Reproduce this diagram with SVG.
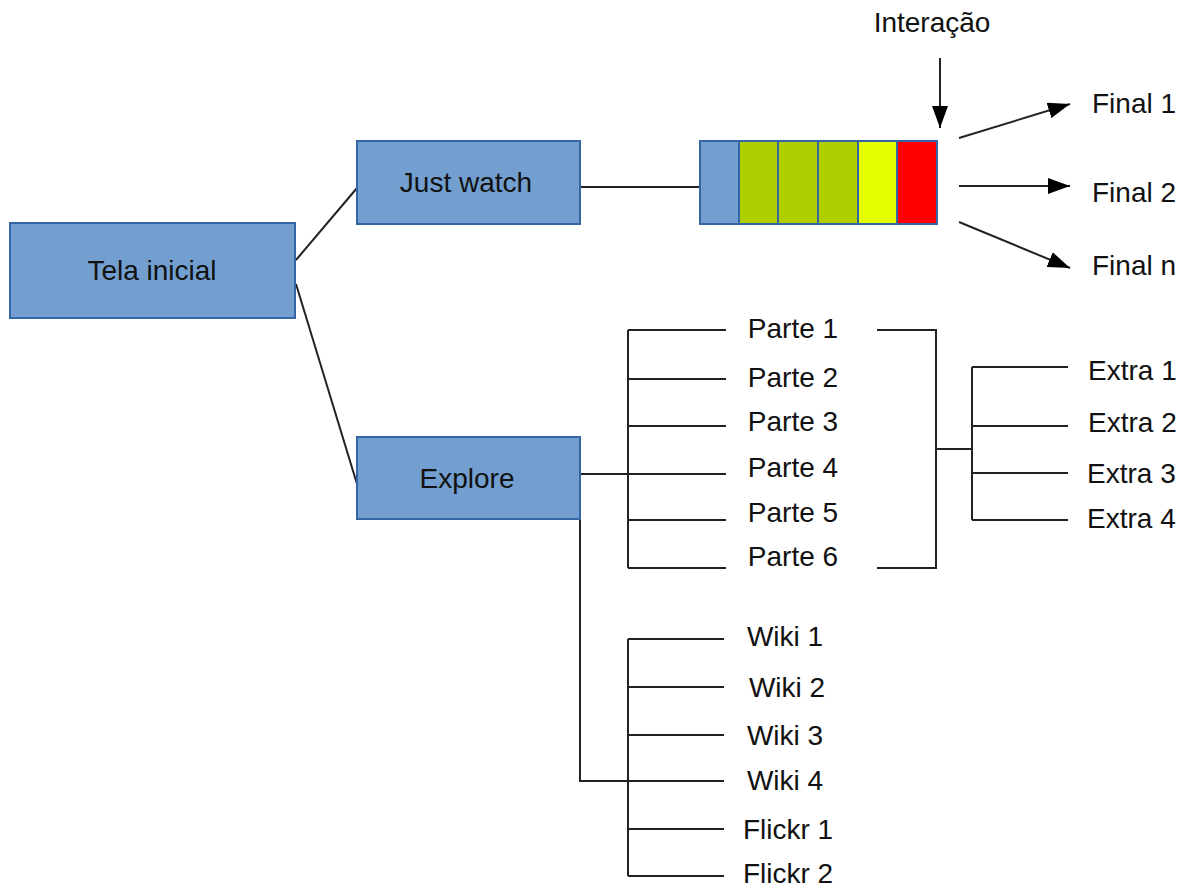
<svg xmlns="http://www.w3.org/2000/svg" width="1189" height="887" viewBox="0 0 1189 887">
<style>
.box{fill:#729fcf;stroke:#3465a4;stroke-width:2}
.t{font-family:"Liberation Sans",Arial,sans-serif;font-size:28px;fill:#111}
.c{text-anchor:middle}
.ln{stroke:#222;stroke-width:2;fill:none}
.ar{stroke:#222;stroke-width:2;fill:none;marker-end:url(#ah)}
.seg{stroke:#3465a4;stroke-width:2}
</style>
<defs>
<marker id="ah" markerWidth="22" markerHeight="16" refX="22" refY="8" orient="auto" markerUnits="userSpaceOnUse">
<path d="M0,0 L22,8 L0,16 Z" fill="#000"/>
</marker>
</defs>
<rect width="1189" height="887" fill="#fff"/>
<g id="connectors">
<line class="ln" x1="296" y1="260" x2="357" y2="188"/>
<line class="ln" x1="296" y1="284" x2="357" y2="484"/>
<line class="ln" x1="580" y1="187" x2="700" y2="187"/>
<line class="ar" x1="940" y1="58" x2="940" y2="128"/>
<line class="ar" x1="959" y1="138" x2="1070" y2="104"/>
<line class="ar" x1="959" y1="186" x2="1070" y2="186"/>
<line class="ar" x1="959" y1="222" x2="1070" y2="268"/>
<path class="ln" d="M580,474 H628 M628,330 V568 M628,330 H726 M628,379 H726 M628,426 H726 M628,474 H726 M628,520 H726 M628,568 H726"/>
<path class="ln" d="M877,330 H936 V568 H877 M936,449 H972 M972,367 V520 M972,367 H1068 M972,426 H1068 M972,473 H1068 M972,520 H1068"/>
<path class="ln" d="M580,520 V781 H628 M628,639 V876 M628,639 H724 M628,687 H724 M628,735 H724 M628,781 H724 M628,829 H724 M628,876 H724"/>
</g>
<g id="tela-inicial"><rect class="box" x="10" y="223" width="285" height="95"/><text class="t c" x="152" y="280">Tela inicial</text></g>
<g id="just-watch"><rect class="box" x="357" y="141" width="223" height="83"/><text class="t c" x="466" y="192">Just watch</text></g>
<g id="explore"><rect class="box" x="357" y="437" width="223" height="82"/><text class="t c" x="467" y="488">Explore</text></g>
<g id="timeline">
<rect x="700" y="141" width="39" height="83" fill="#729fcf" class="seg"/>
<rect x="739" y="141" width="39" height="83" fill="#afcf00" class="seg"/>
<rect x="778" y="141" width="40" height="83" fill="#afcf00" class="seg"/>
<rect x="818" y="141" width="40" height="83" fill="#afcf00" class="seg"/>
<rect x="858" y="141" width="39" height="83" fill="#e3ff00" class="seg"/>
<rect x="897" y="141" width="40" height="83" fill="#ff0000" class="seg"/>
</g>
<g id="interacao"><text class="t c" x="932" y="32">Interação</text></g>
<g id="final-1"><text class="t" x="1092" y="113">Final 1</text></g>
<g id="final-2"><text class="t" x="1092" y="202">Final 2</text></g>
<g id="final-n"><text class="t" x="1092" y="275">Final n</text></g>
<g id="parte-1"><text class="t c" x="793" y="338">Parte 1</text></g>
<g id="parte-2"><text class="t c" x="793" y="387">Parte 2</text></g>
<g id="parte-3"><text class="t c" x="793" y="431">Parte 3</text></g>
<g id="parte-4"><text class="t c" x="793" y="477">Parte 4</text></g>
<g id="parte-5"><text class="t c" x="793" y="522">Parte 5</text></g>
<g id="parte-6"><text class="t c" x="793" y="566">Parte 6</text></g>
<g id="extra-1"><text class="t" x="1088" y="380">Extra 1</text></g>
<g id="extra-2"><text class="t" x="1088" y="432">Extra 2</text></g>
<g id="extra-3"><text class="t" x="1087" y="483">Extra 3</text></g>
<g id="extra-4"><text class="t" x="1087" y="528">Extra 4</text></g>
<g id="wiki-1"><text class="t c" x="785" y="646">Wiki 1</text></g>
<g id="wiki-2"><text class="t c" x="787" y="697">Wiki 2</text></g>
<g id="wiki-3"><text class="t c" x="785" y="745">Wiki 3</text></g>
<g id="wiki-4"><text class="t c" x="785" y="790">Wiki 4</text></g>
<g id="flickr-1"><text class="t c" x="788" y="839">Flickr 1</text></g>
<g id="flickr-2"><text class="t c" x="788" y="883">Flickr 2</text></g>
</svg>
